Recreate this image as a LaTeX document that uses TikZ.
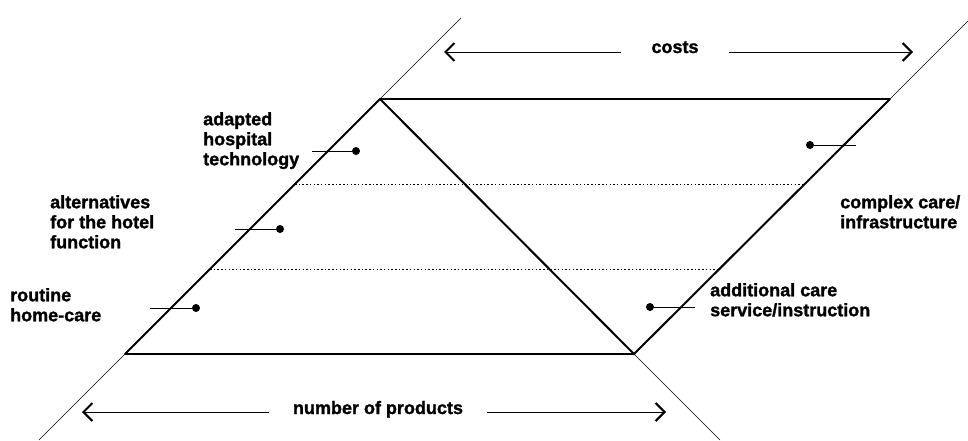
\documentclass[tikz,border=0pt]{standalone}
\usepackage{fontspec}
\setmainfont{Liberation Sans}[BoldFeatures={FakeBold=1.3}]
\usetikzlibrary{arrows.meta,positioning,calc}
\tikzset{
  rim/.style={line width=2.6pt},
  edge/.style={line width=2pt, line cap=round},
  guide/.style={line width=0.6pt},
  level/.style={line width=0.7pt, dash pattern=on 1.5pt off 2.2pt},
  pin/.style={line width=0.9pt},
  dot/.style={circle, fill, inner sep=0pt, minimum size=8pt},
  lbl/.style={font=\fontsize{18}{20}\selectfont\bfseries, align=left,
    inner sep=0pt, anchor=north west},
  axis/.style={font=\fontsize{18}{20}\selectfont\bfseries,
    inner ysep=0pt, anchor=base},
  arr/.style={-{Straight Barb[length=9pt,width=18pt,line width=2.1pt]},
    line width=1pt},
}

\begin{document}
\begin{tikzpicture}[x=1pt, y=-1pt]
  \useasboundingbox (0,0) rectangle (968,440);

  % corners of the figure
  \coordinate (apex) at (380,99);
  \coordinate (tr) at (890,99);
  \coordinate (bl) at (125,354);
  \coordinate (br) at (634,354);

  % thin guide lines running off the page
  \coordinate (gTL) at (461,18);
  \coordinate (gTR) at (968,21);
  \coordinate (gBL) at (39,440);
  \coordinate (gBR) at (720,440);
  \draw[guide] (apex) -- (gTL);
  \draw[guide] (tr) -- (gTR);
  \draw[guide] (bl) -- (gBL);
  \draw[guide] (br) -- (gBR);

  % levels
  \coordinate (lA) at ($(apex)!1/3!(bl)$);
  \coordinate (rA) at ($(tr)!1/3!(br)$);
  \coordinate (lB) at ($(apex)!2/3!(bl)$);
  \coordinate (rB) at ($(tr)!2/3!(br)$);
  \draw[level] (lA) -- (rA);
  \draw[level] (lB) -- (rB);

  % outline
  \draw[rim] (apex) -- (tr);
  \draw[rim] (bl) -- (br);
  \draw[edge] (bl) -- (apex) -- (br) -- (tr);

  % pins
  \node[dot] (dAdapt) at (356,151) {};
  \coordinate (sAdapt) at (312,151);
  \draw[pin] (sAdapt) -- (dAdapt);
  \node[dot] (dHotel) at (280,229) {};
  \coordinate (sHotel) at (235,229);
  \draw[pin] (sHotel) -- (dHotel);
  \node[dot] (dHome) at (196,308) {};
  \coordinate (sHome) at (150,308);
  \draw[pin] (sHome) -- (dHome);
  \node[dot] (dExtra) at (650,307) {};
  \coordinate (sExtra) at (695,307);
  \draw[pin] (sExtra) -- (dExtra);
  \node[dot] (dInfra) at (810,145) {};
  \coordinate (sInfra) at (856,145);
  \draw[pin] (sInfra) -- (dInfra);

  % labels
  \node[lbl] (tAdapt) at (203,112) {adapted\\hospital\\technology};
  \node[lbl] (tHotel) at (50,195) {alternatives\\for the hotel\\function};
  \node[lbl] (tHome) at (10,288) {routine\\home-care};
  \node[lbl] (tExtra) at (710,283) {additional care\\service/instruction};
  \node[lbl] (tInfra) at (840,195) {complex care/\\infrastructure};

  % axes
  \node[axis, inner xsep=30pt] (costs) at (675,53) {costs};
  \coordinate (cL) at (444,52);
  \coordinate (cR) at (913,52);
  \draw[arr] (costs.west |- cL) -- (cL);
  \draw[arr] (costs.east |- cR) -- (cR);

  \node[axis, inner xsep=24pt] (prod) at (378,414) {number of products};
  \coordinate (pL) at (82,412);
  \coordinate (pR) at (666,412);
  \draw[arr] (prod.west |- pL) -- (pL);
  \draw[arr] (prod.east |- pR) -- (pR);
\end{tikzpicture}
\end{document}
